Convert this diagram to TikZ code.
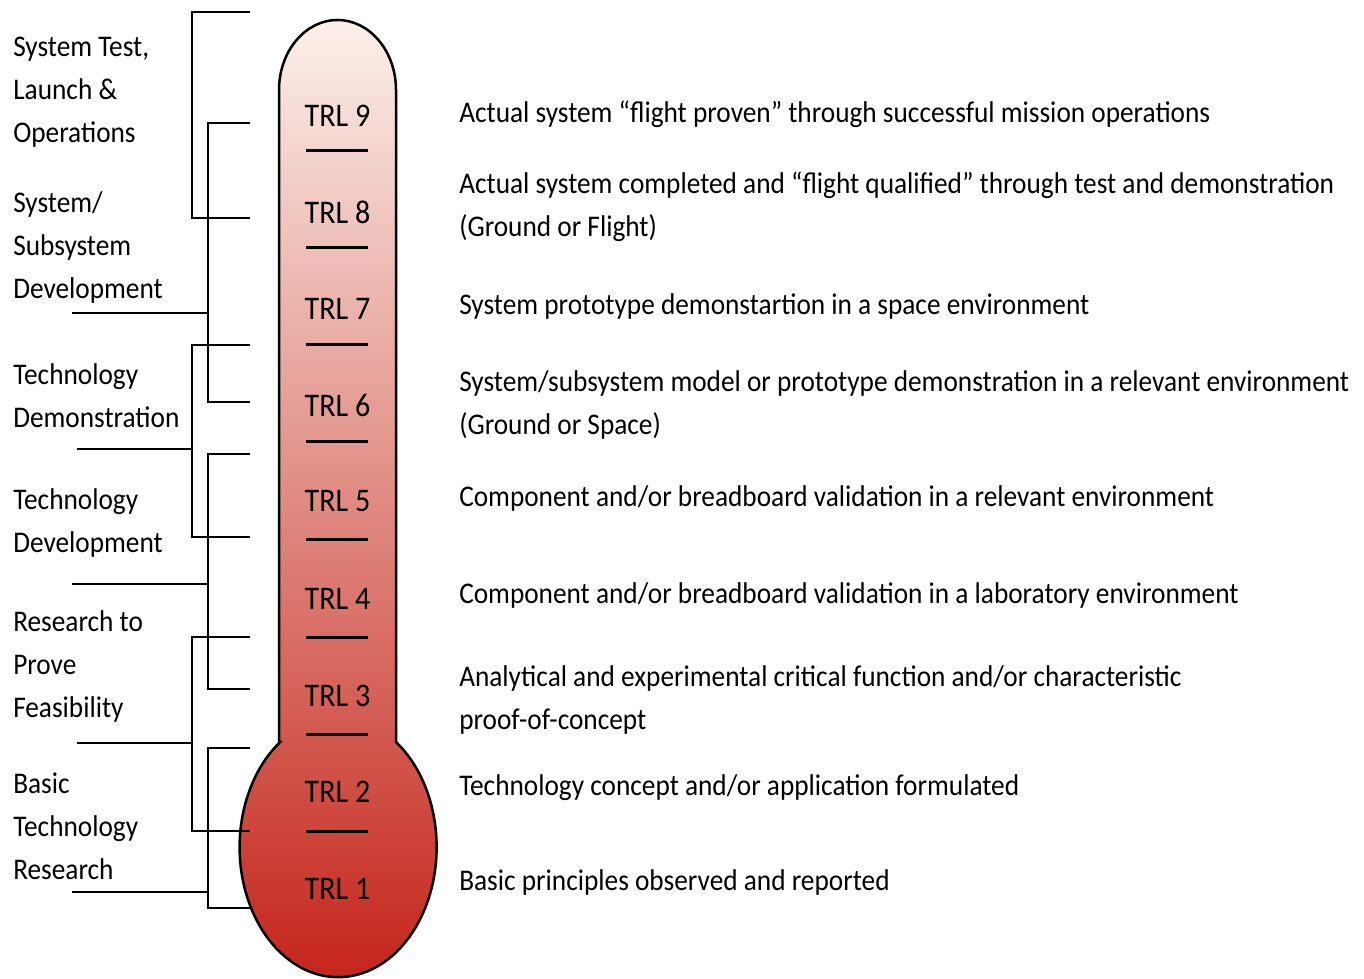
\documentclass[tikz,border=0pt]{standalone}
\usepackage{fontspec}
\setmainfont{Carlito}[FakeStretch=0.91]
\definecolor{trltop}{HTML}{FBF0EA}
\definecolor{trlmid}{HTML}{DE8064}
\definecolor{trlbot}{HTML}{C42218}
\begin{document}
\begin{tikzpicture}[x=1pt,y=1pt,line width=2.5pt,
  trl/.style={anchor=base,inner sep=0pt,font=\fontsize{33}{33}\selectfont},
  desc/.style={anchor=base west,align=left,inner sep=0pt,font=\fontsize{30}{43}\selectfont},
  phase/.style={desc},
  tick/.style={line width=3pt}]
\useasboundingbox (0,0) rectangle (1364,978);

% Thermometer
\shadedraw[top color=trltop,middle color=trlmid,bottom color=trlbot]
  (279,236) -- (279,888) arc[start angle=180,end angle=0,x radius=58.5pt,y radius=70pt]
  -- (396,236) arc[start angle=54,end angle=-234,x radius=98.5pt,y radius=130pt] -- cycle;

% Levels
\node[trl] (trl9) at (337.5,851) {TRL 9};
\node[trl] (trl8) at (337.5,754) {TRL 8};
\node[trl] (trl7) at (337.5,658) {TRL 7};
\node[trl] (trl6) at (337.5,561) {TRL 6};
\node[trl] (trl5) at (337.5,466) {TRL 5};
\node[trl] (trl4) at (337.5,369) {TRL 4};
\node[trl] (trl3) at (337.5,272) {TRL 3};
\node[trl] (trl2) at (337.5,176) {TRL 2};
\node[trl] (trl1) at (337.5,79) {TRL 1};

% Separators
\draw[tick] (306,827) -- (368,827);
\draw[tick] (306,730) -- (368,730);
\draw[tick] (306,633) -- (368,633);
\draw[tick] (306,536) -- (368,536);
\draw[tick] (306,438) -- (368,438);
\draw[tick] (306,341) -- (368,341);
\draw[tick] (306,244) -- (368,244);
\draw[tick] (306,147) -- (368,147);

% Descriptions (base = last line)
\node[desc] (d9) at (458,855) {Actual system “flight proven” through successful mission operations};
\node[desc] (d8) at (458,741) {Actual system completed and “flight qualified” through test and demonstration\\(Ground or Flight)};
\node[desc] (d7) at (458,663) {System prototype demonstartion in a space environment};
\node[desc] (d6) at (458,543) {System/subsystem model or prototype demonstration in a relevant environment\\(Ground or Space)};
\node[desc] (d5) at (458,471) {Component and/or breadboard validation in a relevant environment};
\node[desc] (d4) at (458,375) {Component and/or breadboard validation in a laboratory environment};
\node[desc] (d3) at (458,249) {Analytical and experimental critical function and/or characteristic\\proof-of-concept};
\node[desc] (d2) at (458,183) {Technology concept and/or application formulated};
\node[desc] (d1) at (458,88) {Basic principles observed and reported};

% Phases
\node[phase] (ops) at (12,835) {System Test,\\Launch \&\\Operations};
\node[phase] (sysdev) at (12,679) {System/\\Subsystem\\Development};
\node[phase] (techdemo) at (12,550) {Technology\\Demonstration};
\node[phase] (techdev) at (12,425) {Technology\\Development};
\node[phase] (feas) at (12,261) {Research to\\Prove\\Feasibility};
\node[phase] (basic) at (12,99) {Basic\\Technology\\Research};

% Brackets
\draw (250,966) -- (192,966) -- (192,760) -- (250,760);
\draw (250,855) -- (208,855) -- (208,576) -- (250,576);
\draw (72,665) -- (208,665);
\draw (250,633) -- (192,633) -- (192,441) -- (250,441);
\draw (77,529) -- (192,529);
\draw (250,524) -- (208,524) -- (208,289) -- (250,289);
\draw (72,394) -- (208,394);
\draw (250,341) -- (192,341) -- (192,147) -- (250,147);
\draw (77,235) -- (192,235);
\draw (250,230) -- (208,230) -- (208,70) -- (250,70);
\draw (72,86) -- (208,86);
\end{tikzpicture}
\end{document}
